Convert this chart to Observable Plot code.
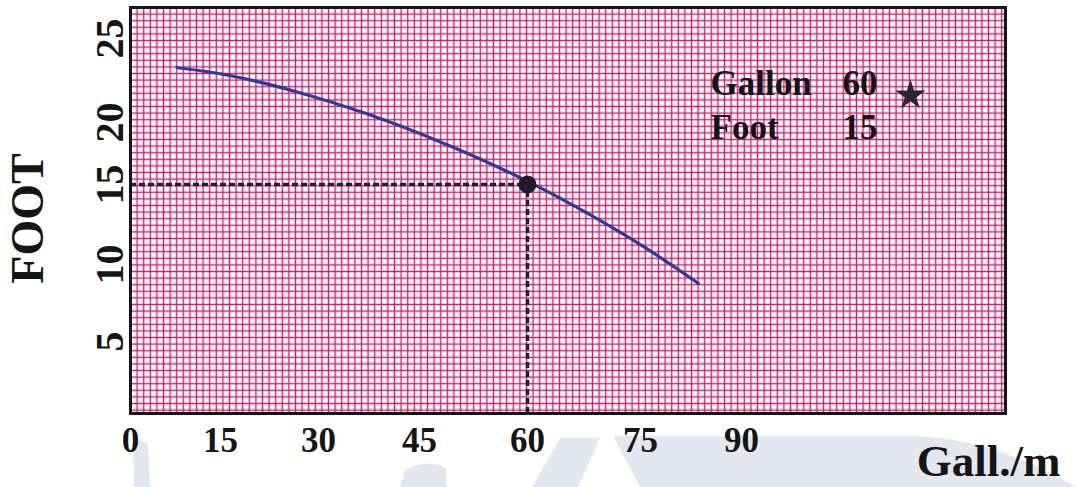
<!DOCTYPE html>
<html>
<head>
<meta charset="utf-8">
<script src="https://cdn.jsdelivr.net/npm/d3@7"></script>
<script src="https://cdn.jsdelivr.net/npm/@observablehq/plot@0.6"></script>
<style>
  body { margin: 0; background: #fff; }
  #wrap { position: relative; width: 1076px; height: 487px; overflow: hidden; }
  #wm { position: absolute; left: 0; top: 0; }
  #chart { position: absolute; left: 0; top: 0; }
</style>
</head>
<body>
<div id="wrap">
  <svg id="wm" width="1076" height="487">
    <g fill="#e3e7f0">
      <path d="M133 442 Q140 438 148 444 L150 487 L134 487 Z"/>
      <path d="M405 470 Q425 458 446 468 L446 487 L400 487 Z"/>
      <path d="M560 438 L600 438 L578 487 L532 487 Z"/>
      <path d="M613 436 L915 436 Q1000 440 1076 487 L640 487 Z"/>
    </g>
  </svg>
  <div id="chart"></div>
</div>
<script>
// ---- data ----
const xTicks = [0, 15, 30, 45, 60, 75, 90];
const yTicks = [5, 10, 15, 20, 25];
const curveX = [7.8, 16.4, 26.9, 37.3, 47.4, 56.9, 66.2, 75.4, 83.6];
const curveY = [23.26, 22.8, 21.8, 20.5, 18.55, 16.13, 13.66, 11.13, 8.77];
const opX = [60];
const opY = [15];
const noteLabels = ["Gallon", "Foot"];
const noteValues = ["60", "15"];
const xTitle = "Gall./m";
const yTitle = "FOOT";

// hand-drawn axis: piecewise scales
const xDomain = [0, 15, 30, 45, 60, 75, 90, 128];
const xRange = [130, 220, 318, 419, 527, 640, 741, 1005];
const yDomain = [0.3, 5, 10, 15, 20, 25, 26.8];
const yRange = [413, 341, 264, 184, 122, 38, 7];

const curve = curveX.map((x, i) => ({x, y: curveY[i]}));
const op = opX.map((x, i) => ({x, y: opY[i]}));

const ink = "#151515";
const dashInk = "#1b2238";

const chart = Plot.plot({
  width: 1076,
  height: 487,
  marginLeft: 130,
  marginRight: 71,
  marginTop: 7,
  marginBottom: 74,
  style: {
    fontFamily: "'Liberation Serif', 'Times New Roman', serif",
    fontWeight: "bold",
    background: "transparent",
    color: ink
  },
  x: {type: "linear", domain: xDomain, range: xRange},
  y: {type: "linear", domain: yDomain, range: yRange, axis: null},
  marks: [
    Plot.frame({fill: "url(#paper)"}),
    Plot.ruleY(opY, {y: d => d, x1: 0, x2: opX[0], stroke: dashInk, strokeWidth: 3.5, strokeDasharray: "6,3"}),
    Plot.ruleX(opX, {x: d => d, y1: yDomain[0], y2: opY[0], stroke: dashInk, strokeWidth: 3.5, strokeDasharray: "6,3"}),
    Plot.line(curve, {x: "x", y: "y", curve: "natural", stroke: "#2a3a9e", strokeWidth: 3.2, strokeLinecap: "round"}),
    Plot.dot(op, {x: "x", y: "y", r: 9, fill: "#221a2c"}),
    Plot.frame({stroke: ink, strokeWidth: 3}),
    Plot.axisX({ticks: xTicks, tickSize: 0, tickPadding: 14, fontSize: 35, tickFormat: d => String(d), label: null}),
    Plot.text(yTicks, {y: d => d, text: d => String(d), frameAnchor: "left", dx: -20, rotate: -90,
      textAnchor: "middle", lineAnchor: "middle", fontSize: 40, fill: ink}),
    Plot.text([yTitle], {text: d => d, frameAnchor: "left", dx: -102, dy: 8, rotate: -90,
      textAnchor: "middle", lineAnchor: "middle", fontSize: 46, fill: ink}),
    Plot.text([xTitle], {text: d => d, frameAnchor: "bottom-right", dx: 55, dy: 62,
      textAnchor: "end", lineAnchor: "bottom", fontSize: 45, fill: ink}),
    Plot.text([noteLabels.join("\n")], {text: d => d, frameAnchor: "top-right", dx: -295, dy: 56,
      textAnchor: "start", lineAnchor: "top", lineHeight: 1.26, fontSize: 35, fill: ink}),
    Plot.text([noteValues.join("\n")], {text: d => d, frameAnchor: "top-right", dx: -128, dy: 56,
      textAnchor: "end", lineAnchor: "top", lineHeight: 1.26, fontSize: 35, fill: ink}),
    Plot.dot([0], {frameAnchor: "top-right", dx: -95, dy: 88, symbol: "star", r: 9.5, fill: "#2a2434"})
  ]
});

// graph-paper pattern used by the frame fill
const ns = "http://www.w3.org/2000/svg";
const defs = document.createElementNS(ns, "defs");
const s = 6.6, h = s / 2;
defs.innerHTML = `<pattern id="paper" patternUnits="userSpaceOnUse" x="${130 - h}" y="${7 - h}" width="${s}" height="${s}">
  <rect width="${s}" height="${s}" fill="#ffffff"/>
  <path d="M${h} 0V${s}M0 ${h}H${s}" stroke="#c8256f" stroke-width="1.45"/>
</pattern>`;
chart.insertBefore(defs, chart.firstChild);

document.getElementById("chart").appendChild(chart);
</script>
</body>
</html>
